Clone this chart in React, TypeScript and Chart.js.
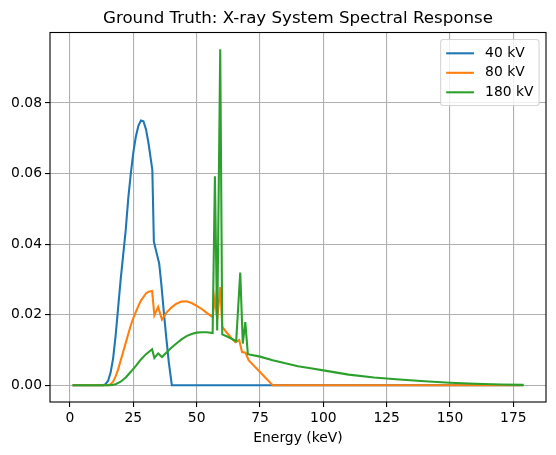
import React, { useEffect, useRef } from "react";
import { Chart, registerables } from "chart.js";

Chart.register(...registerables);

const TITLE = "Ground Truth: X-ray System Spectral Response";
const X_LABEL = "Energy (keV)";
const SERIES_LABELS = ["40 kV", "80 kV", "180 kV"];
const SERIES_COLORS = ["#1f77b4", "#ff7f0e", "#2ca02c"];
const X_TICKS = [0, 25, 50, 75, 100, 125, 150, 175];
const Y_TICKS = [0, 0.02, 0.04, 0.06, 0.08];

const blueE = [1, 13, 14, 15, 16, 17, 18, 19, 20, 21, 22, 23, 24, 25, 26, 27, 28, 29, 30, 31, 32, 32.5, 33.1, 34, 35.2, 36, 37, 38, 39, 40.2, 179];
const blueV = [0, 0, 0.0003, 0.0012, 0.0035, 0.0075, 0.014, 0.022, 0.03, 0.037, 0.044, 0.053, 0.06, 0.066, 0.0705, 0.0735, 0.075, 0.0748, 0.0725, 0.0685, 0.0635, 0.061, 0.0407, 0.038, 0.0345, 0.029, 0.021, 0.0135, 0.0065, 0, 0];

const orangeE = [1, 15, 16, 17, 18, 19, 20, 21, 22, 23, 24, 25, 26, 27, 28, 29, 30, 31, 32.4, 33.3, 34.8, 36.3, 38, 40, 42, 44, 46, 48, 50, 52, 54, 56.3, 57.2, 58.1, 59.3, 60.1, 62, 64, 65.3, 66.8, 67.9, 69.3, 70.5, 80, 179];
const orangeV = [0, 0, 0.0003, 0.001, 0.0025, 0.0045, 0.007, 0.0095, 0.012, 0.0145, 0.017, 0.019, 0.0208, 0.0225, 0.024, 0.025, 0.026, 0.0265, 0.0267, 0.0198, 0.0222, 0.0186, 0.0205, 0.022, 0.0231, 0.0237, 0.0238, 0.0233, 0.0225, 0.0216, 0.0205, 0.0193, 0.0247, 0.0185, 0.0278, 0.0165, 0.0148, 0.0131, 0.0122, 0.0128, 0.0094, 0.0092, 0.0071, 0, 0];

const greenE = [1, 16, 18, 20, 22, 24, 26, 28, 30, 32.4, 33.3, 34.8, 36.3, 38, 40, 42, 44, 46, 48, 50, 52, 54, 56.3, 57.2, 58.1, 59.3, 60.1, 62, 64, 65.6, 67.2, 68.2, 69.2, 70.2, 75, 80, 85, 90, 95, 100, 110, 120, 130, 140, 150, 160, 170, 179];
const greenV = [0, 0, 0.0003, 0.001, 0.0022, 0.0038, 0.0055, 0.0073, 0.0088, 0.0102, 0.0077, 0.009, 0.008, 0.0092, 0.0106, 0.0118, 0.013, 0.0139, 0.0145, 0.0149, 0.015, 0.015, 0.0148, 0.0592, 0.0155, 0.0952, 0.0144, 0.0138, 0.0131, 0.0125, 0.0319, 0.0118, 0.0179, 0.0088, 0.0081, 0.0071, 0.0062, 0.0054, 0.0048, 0.0042, 0.003, 0.0022, 0.0016, 0.0011, 0.0007, 0.0004, 0.0002, 0.0001];

const FONT = "DejaVu Sans";

function toPoints(xs: number[], ys: number[]) {
  return xs.map((x, i) => ({ x, y: ys[i] }));
}

const framePlugin = {
  id: "frameAndLegend",
  afterDatasetsDraw(chart: any) {
    const { ctx, chartArea } = chart;
    const { left, right, top, bottom } = chartArea;
    ctx.save();
    ctx.strokeStyle = "#000";
    ctx.lineWidth = 1.1;
    ctx.strokeRect(left, top, right - left, bottom - top);

    // legend (matplotlib style, upper right)
    const fs = 13.89;
    ctx.font = `${fs}px "${FONT}"`;
    const labels = chart.data.datasets.map((d: any) => d.label);
    const colors = chart.data.datasets.map((d: any) => d.borderColor);
    const maxW = Math.max(...labels.map((l: string) => ctx.measureText(l).width));
    const pad = 0.4 * fs;
    const handleLen = 2.0 * fs;
    const handlePad = 0.8 * fs;
    const rowH = 19.5;
    const boxW = pad + handleLen + handlePad + maxW + pad;
    const boxH = pad * 2 + rowH * labels.length - (rowH - fs) + 2;
    const bx = right - 0.5 * fs - boxW;
    const by = top + 0.5 * fs;
    const r = 2.8;
    ctx.beginPath();
    ctx.moveTo(bx + r, by);
    ctx.lineTo(bx + boxW - r, by);
    ctx.arcTo(bx + boxW, by, bx + boxW, by + r, r);
    ctx.lineTo(bx + boxW, by + boxH - r);
    ctx.arcTo(bx + boxW, by + boxH, bx + boxW - r, by + boxH, r);
    ctx.lineTo(bx + r, by + boxH);
    ctx.arcTo(bx, by + boxH, bx, by + boxH - r, r);
    ctx.lineTo(bx, by + r);
    ctx.arcTo(bx, by, bx + r, by, r);
    ctx.closePath();
    ctx.fillStyle = "rgba(255,255,255,0.8)";
    ctx.fill();
    ctx.strokeStyle = "rgba(204,204,204,0.8)";
    ctx.lineWidth = 1.1;
    ctx.stroke();

    labels.forEach((l: string, i: number) => {
      const cy = by + pad + 8.3 + i * rowH;
      ctx.beginPath();
      ctx.strokeStyle = colors[i];
      ctx.lineWidth = 2.08;
      ctx.moveTo(bx + pad, cy);
      ctx.lineTo(bx + pad + handleLen, cy);
      ctx.stroke();
      ctx.fillStyle = "#000";
      ctx.textBaseline = "middle";
      ctx.textAlign = "left";
      ctx.fillText(l, bx + pad + handleLen + handlePad, cy);
    });
    ctx.restore();
  },
};

export default function App() {
  const ref = useRef<HTMLCanvasElement | null>(null);

  useEffect(() => {
    if (!ref.current) return;
    const tickFont = { family: FONT, size: 13.89 };
    const gridOpts = {
      color: "#b0b0b0",
      lineWidth: 1.1,
      tickColor: "#000",
      tickLength: 5,
      tickWidth: 1.1,
      drawTicks: true,
    };
    const lw = 2.08;
    const chart = new Chart(ref.current, {
      type: "line",
      data: {
        datasets: [
          { label: SERIES_LABELS[0], data: toPoints(blueE, blueV), borderColor: SERIES_COLORS[0], backgroundColor: SERIES_COLORS[0], borderWidth: lw, pointRadius: 0, tension: 0, fill: false, order: 3 },
          { label: SERIES_LABELS[1], data: toPoints(orangeE, orangeV), borderColor: SERIES_COLORS[1], backgroundColor: SERIES_COLORS[1], borderWidth: lw, pointRadius: 0, tension: 0, fill: false, order: 2 },
          { label: SERIES_LABELS[2], data: toPoints(greenE, greenV), borderColor: SERIES_COLORS[2], backgroundColor: SERIES_COLORS[2], borderWidth: lw, pointRadius: 0, tension: 0, fill: false, order: 1 },
        ],
      },
      options: {
        animation: false,
        responsive: false,
        devicePixelRatio: 1,
        layout: { padding: { left: 0, right: 10, top: 0, bottom: 5 } },
        plugins: {
          legend: { display: false },
          tooltip: { enabled: false },
          title: {
            display: true,
            fullSize: false,
            text: TITLE,
            color: "#000",
            font: { family: FONT, size: 16.67, weight: "normal" },
            padding: { top: 8.5, bottom: 4 },
          },
        },
        scales: {
          x: {
            type: "linear",
            min: -7.9,
            max: 187.9,
            afterBuildTicks: (s: any) => {
              s.ticks = X_TICKS.map((value) => ({ value }));
            },
            afterFit: (s: any) => {
              s.height = 48;
            },
            ticks: {
              color: "#000",
              font: tickFont,
              padding: 3,
              maxRotation: 0,
              autoSkip: false,
              callback: (v: any) => String(v),
            },
            grid: gridOpts,
            border: { display: false },
            title: {
              display: true,
              text: X_LABEL,
              color: "#000",
              font: tickFont,
              padding: { top: 0, bottom: 3.7 },
            },
          },
          y: {
            type: "linear",
            min: -0.00476,
            max: 0.09996,
            afterBuildTicks: (s: any) => {
              s.ticks = Y_TICKS.map((value) => ({ value }));
            },
            afterFit: (s: any) => {
              s.width = 50;
            },
            ticks: {
              color: "#000",
              font: tickFont,
              padding: 3,
              autoSkip: false,
              callback: (v: any) => Number(v).toFixed(2),
            },
            grid: gridOpts,
            border: { display: false },
          },
        },
      } as any,
      plugins: [framePlugin],
    });
    return () => chart.destroy();
  }, []);

  return (
    <div style={{ position: "absolute", left: 0, top: 0, width: 556, height: 455, background: "#fff" }}>
      <canvas ref={ref} width={556} height={455} style={{ width: 556, height: 455, display: "block" }} />
    </div>
  );
}
